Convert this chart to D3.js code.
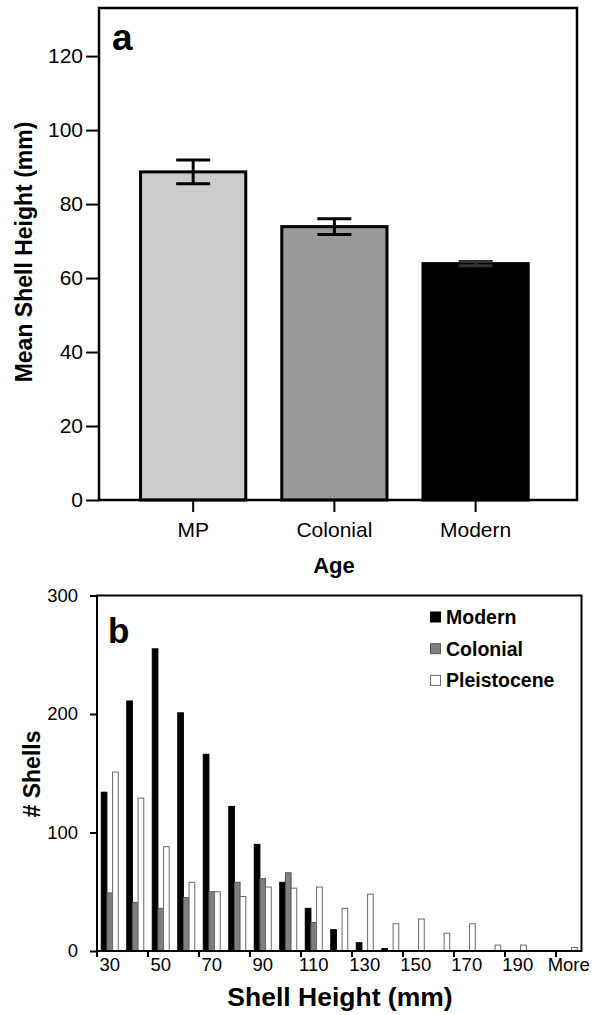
<!DOCTYPE html>
<html>
<head>
<meta charset="utf-8">
<script src="https://cdn.jsdelivr.net/npm/d3@7"></script>
<style>
  body { margin: 0; background: #fff; }
  text { font-family: "Liberation Sans", Arial, sans-serif; fill: #000; }
</style>
</head>
<body>
<div id="chart"></div>
<script>
// panel a: mean shell height by age
var ages = ["MP", "Colonial", "Modern"];
var meanHeight = [88.7, 73.9, 63.9];
var errHeight = [3.2, 2.1, 0.6];
var ageColors = ["#cccccc", "#999999", "#000000"];
var aTicks = [0, 20, 40, 60, 80, 100, 120];

// panel b: histogram of shell heights
var bins = ["30", "40", "50", "60", "70", "80", "90", "100", "110", "120", "130",
  "140", "150", "160", "170", "180", "190", "200", "More"];
var series = ["Modern", "Colonial", "Pleistocene"];
var modern = [134, 211, 255, 201, 166, 122, 90, 58, 36, 18, 7, 2, 0, 0, 0, 0, 0, 0, 0];
var colonial = [49, 41, 36, 45, 50, 58, 61, 66, 24, 0, 0, 0, 0, 0, 0, 0, 0, 0, 0];
var pleistocene = [151, 129, 88, 58, 50, 46, 54, 53, 54, 36, 48, 23, 27, 15, 23, 5, 5, 0, 3];
var bTicks = [0, 100, 200, 300];
var binLabels = ["30", "50", "70", "90", "110", "130", "150", "170", "190", "More"];

var svg = d3.select("#chart").append("svg")
  .attr("width", 596)
  .attr("height", 1015);

// ---------- panel a ----------
var a = {left: 99, right: 577, top: 8, bottom: 500};

var xa = d3.scaleBand()
  .domain(ages)
  .range([a.left, a.right])
  .paddingInner(0.255)
  .paddingOuter(0.32)
  .align(0.46);

var ya = d3.scaleLinear()
  .domain([0, 133])
  .range([a.bottom, a.top]);

var ga = svg.append("g");

ga.append("g")
  .attr("transform", "translate(" + a.left + ",0)")
  .call(d3.axisLeft(ya).tickValues(aTicks).tickSize(13).tickPadding(3))
  .call(function(g) { g.select(".domain").remove(); })
  .call(function(g) {
    g.selectAll("line").attr("stroke-width", 2);
    g.selectAll("text").style("font-size", "21px").attr("fill", "#000");
  });

ga.append("g")
  .attr("transform", "translate(0," + a.bottom + ")")
  .call(d3.axisBottom(xa).tickSize(12).tickPadding(10))
  .call(function(g) { g.select(".domain").remove(); })
  .call(function(g) {
    g.selectAll("line").attr("stroke-width", 2);
    g.selectAll("text").style("font-size", "21px").attr("fill", "#000");
  });

ga.selectAll("rect.bar")
  .data(ages)
  .enter().append("rect")
    .attr("class", "bar")
    .attr("x", function(d) { return xa(d); })
    .attr("y", function(d, i) { return ya(meanHeight[i]); })
    .attr("width", xa.bandwidth())
    .attr("height", function(d, i) { return ya(0) - ya(meanHeight[i]); })
    .attr("fill", function(d, i) { return ageColors[i]; })
    .attr("stroke", "#000")
    .attr("stroke-width", 3);

// error bars
var capHalf = 17;
ages.forEach(function(d, i) {
  var cx = xa(d) + xa.bandwidth() / 2;
  var hi = ya(meanHeight[i] + errHeight[i]);
  var lo = ya(meanHeight[i] - errHeight[i]);
  var e = ga.append("g").attr("stroke", i == 2 ? "#333" : "#000").attr("stroke-width", 3);
  e.append("line").attr("x1", cx).attr("x2", cx).attr("y1", hi).attr("y2", lo);
  e.append("line").attr("x1", cx - capHalf).attr("x2", cx + capHalf).attr("y1", hi).attr("y2", hi);
  e.append("line").attr("x1", cx - capHalf).attr("x2", cx + capHalf).attr("y1", lo).attr("y2", lo);
});

ga.append("rect")
  .attr("x", a.left)
  .attr("y", a.top)
  .attr("width", a.right - a.left)
  .attr("height", a.bottom - a.top)
  .attr("fill", "none")
  .attr("stroke", "#000")
  .attr("stroke-width", 2.5);

ga.append("text")
  .attr("x", 112)
  .attr("y", 50)
  .style("font-size", "37px")
  .style("font-weight", "bold")
  .text("a");

ga.append("text")
  .attr("transform", "translate(32,252) rotate(-90)")
  .attr("text-anchor", "middle")
  .style("font-size", "23px")
  .style("font-weight", "bold")
  .text("Mean Shell Height (mm)");

ga.append("text")
  .attr("x", 334)
  .attr("y", 573)
  .attr("text-anchor", "middle")
  .style("font-size", "22px")
  .style("font-weight", "bold")
  .text("Age");

// ---------- panel b ----------
var b = {left: 97, right: 581.5, top: 595.5, bottom: 951};

var xb = d3.scaleBand()
  .domain(bins)
  .range([b.left, b.right])
  .padding(0);

var xs = d3.scaleBand()
  .domain(series)
  .range([0, xb.bandwidth()])
  .paddingInner(0)
  .paddingOuter(0.75);

var yb = d3.scaleLinear()
  .domain([0, 300])
  .range([b.bottom, b.top]);

var fills = {Modern: "#000000", Colonial: "#7f7f7f", Pleistocene: "#ffffff"};
var strokes = {Modern: "#000000", Colonial: "#555555", Pleistocene: "#6a6a6a"};
var values = {Modern: modern, Colonial: colonial, Pleistocene: pleistocene};

var gb = svg.append("g");

gb.append("g")
  .attr("transform", "translate(" + b.left + ",0)")
  .call(d3.axisLeft(yb).tickValues(bTicks).tickSize(7).tickPadding(12))
  .call(function(g) { g.select(".domain").remove(); })
  .call(function(g) {
    g.selectAll("line").attr("stroke-width", 2);
    g.selectAll("text").style("font-size", "18.5px").attr("fill", "#000");
  });

gb.append("g")
  .attr("transform", "translate(0," + b.bottom + ")")
  .call(d3.axisBottom(xb).tickValues(binLabels).tickSize(0).tickPadding(7))
  .call(function(g) { g.select(".domain").remove(); })
  .call(function(g) {
    g.selectAll("text").style("font-size", "18.5px").attr("fill", "#000");
  });

// tick marks sit on the bin boundaries, every second bin
gb.selectAll("line.xtick")
  .data(binLabels)
  .enter().append("line")
    .attr("class", "xtick")
    .attr("x1", function(d) { return xb(d); })
    .attr("x2", function(d) { return xb(d); })
    .attr("y1", b.bottom)
    .attr("y2", b.bottom + 6)
    .attr("stroke", "#000")
    .attr("stroke-width", 2);

series.forEach(function(s) {
  gb.append("g").selectAll("rect")
    .data(bins)
    .enter().append("rect")
      .attr("x", function(d) { return xb(d) + xs(s); })
      .attr("y", function(d, i) { return yb(values[s][i]); })
      .attr("width", xs.bandwidth())
      .attr("height", function(d, i) { return yb(0) - yb(values[s][i]); })
      .attr("fill", fills[s])
      .attr("stroke", function(d, i) { return values[s][i] > 0 ? strokes[s] : "none"; })
      .attr("stroke-width", 1);
});

gb.append("rect")
  .attr("x", b.left)
  .attr("y", b.top)
  .attr("width", b.right - b.left)
  .attr("height", b.bottom - b.top)
  .attr("fill", "none")
  .attr("stroke", "#000")
  .attr("stroke-width", 2);

// legend
var leg = gb.selectAll("g.leg")
  .data(series)
  .enter().append("g")
    .attr("class", "leg")
    .attr("transform", function(d, i) { return "translate(430," + (617 + i * 31.7) + ")"; });

leg.append("rect")
  .attr("x", 0.5)
  .attr("y", -5)
  .attr("width", 10)
  .attr("height", 10)
  .attr("fill", function(d) { return fills[d]; })
  .attr("stroke", function(d) { return strokes[d]; })
  .attr("stroke-width", 1);

leg.append("text")
  .attr("x", 16)
  .attr("y", 7)
  .style("font-size", "19.5px")
  .style("font-weight", "bold")
  .text(function(d) { return d; });

gb.append("text")
  .attr("x", 108)
  .attr("y", 643)
  .style("font-size", "35px")
  .style("font-weight", "bold")
  .text("b");

gb.append("text")
  .attr("transform", "translate(40,774) rotate(-90)")
  .attr("text-anchor", "middle")
  .style("font-size", "23px")
  .style("font-weight", "bold")
  .text("# Shells");

gb.append("text")
  .attr("x", 340)
  .attr("y", 1006)
  .attr("text-anchor", "middle")
  .style("font-size", "26.5px")
  .style("font-weight", "bold")
  .text("Shell Height (mm)");
</script>
</body>
</html>
